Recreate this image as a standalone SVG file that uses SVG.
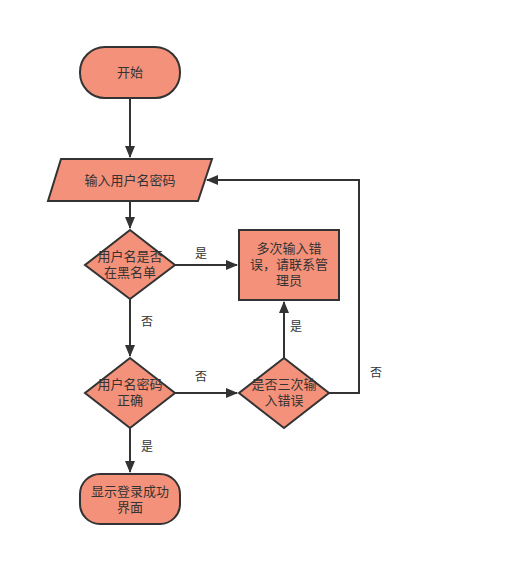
<svg xmlns="http://www.w3.org/2000/svg" width="518" height="586" viewBox="0 0 518 586">
<style>
.n{fill:#F4917A;stroke:#333;stroke-width:2}
.t{font-family:"Liberation Sans","Noto Sans CJK SC",sans-serif;font-size:12px;fill:#333;text-anchor:middle}
.m{font-size:13px}
.c{fill:none;stroke:#333;stroke-width:2}
</style>
<defs>
<marker id="a" markerWidth="12" markerHeight="10" refX="11" refY="5" orient="auto" markerUnits="userSpaceOnUse">
<path d="M0,0 L12,5 L0,10 Z" fill="#333"/>
</marker>
</defs>
<rect width="518" height="586" fill="#fff"/>
<g id="edges">
<path class="c" d="M130,98 V157" marker-end="url(#a)"/>
<path class="c" d="M130,201 V228" marker-end="url(#a)"/>
<path class="c" d="M175,265 H237" marker-end="url(#a)"/>
<path class="c" d="M130,299 V356" marker-end="url(#a)"/>
<path class="c" d="M175,393 H237" marker-end="url(#a)"/>
<path class="c" d="M130,428 V472" marker-end="url(#a)"/>
<path class="c" d="M284,358 V302" marker-end="url(#a)"/>
<path class="c" d="M329,393 H359 V180 H207" marker-end="url(#a)"/>
<text class="t" x="201" y="258">是</text>
<text class="t" x="147" y="326">否</text>
<text class="t" x="201" y="381">否</text>
<text class="t" x="147" y="451">是</text>
<text class="t" x="296" y="331">是</text>
<text class="t" x="376" y="377">否</text>
</g>
<g id="start">
<rect class="n" x="80" y="47" width="100" height="51" rx="25"/>
<text class="t m" x="130" y="77">开始</text>
</g>
<g id="input">
<polygon class="n" points="61,159 212,159 198,201 48,201"/>
<text class="t m" x="130" y="185">输入用户名密码</text>
</g>
<g id="blacklist">
<polygon class="n" points="130,230 175,265 130,299 85,265"/>
<text class="t m" x="130" y="261">用户名是否</text>
<text class="t m" x="130" y="277">在黑名单</text>
</g>
<g id="error">
<rect class="n" x="239" y="230" width="100" height="70"/>
<text class="t m" x="289" y="253">多次输入错</text>
<text class="t m" x="289" y="269">误，请联系管</text>
<text class="t m" x="289" y="285">理员</text>
</g>
<g id="correct">
<polygon class="n" points="130,358 175,393 130,428 85,393"/>
<text class="t m" x="130" y="389">用户名密码</text>
<text class="t m" x="130" y="405">正确</text>
</g>
<g id="three">
<polygon class="n" points="284,358 329,393 284,428 239,393"/>
<text class="t m" x="284" y="389">是否三次输</text>
<text class="t m" x="284" y="405">入错误</text>
</g>
<g id="success">
<rect class="n" x="80" y="474" width="100" height="50" rx="20"/>
<text class="t m" x="130" y="496">显示登录成功</text>
<text class="t m" x="130" y="512">界面</text>
</g>
</svg>
